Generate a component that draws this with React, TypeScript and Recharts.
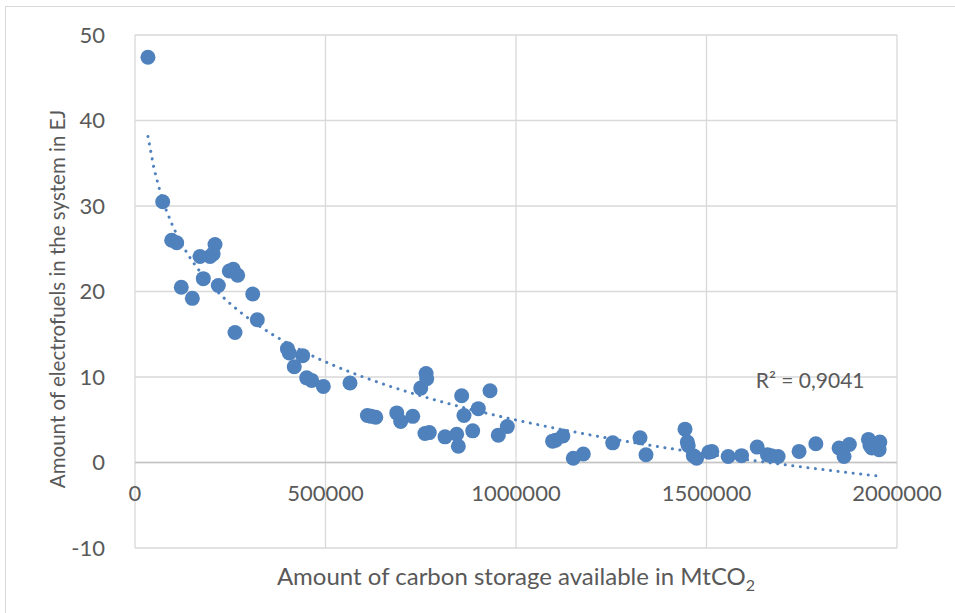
import {
  CartesianGrid,
  ReferenceDot,
  ReferenceLine,
  Scatter,
  ScatterChart,
  XAxis,
  YAxis,
} from 'recharts';

// carbon storage available (MtCO2) and electrofuels in the system (EJ)
const storageMt = [
  34000, 72700, 96300, 109400, 121500, 150500, 170600, 179300, 197000, 205000,
  210000, 218700, 247600, 258000, 269500, 262500, 309000, 321000, 400000, 405000,
  418000, 440000, 450600, 463700, 494300, 564300, 610000, 620000, 632000, 687000,
  697300, 729000, 750000, 764000, 765600, 761000, 772400, 813700, 844300, 848700,
  857400, 863500, 886300, 901100, 931800, 953600, 977200, 1096000, 1104000, 1123000,
  1150400, 1176700, 1253800, 1325500, 1341200, 1443600, 1449700, 1452000, 1465400, 1474000,
  1506000, 1514000, 1557000, 1592000, 1633000, 1660000, 1670000, 1688000, 1743000, 1787000,
  1848000, 1861000, 1875000, 1925000, 1929000, 1934000, 1955000, 1953000,
];
const electrofuelsEJ = [
  47.4, 30.5, 26.0, 25.7, 20.5, 19.2, 24.1, 21.5, 24.1, 24.4,
  25.5, 20.7, 22.4, 22.6, 21.9, 15.2, 19.7, 16.7, 13.3, 12.8,
  11.2, 12.5, 9.9, 9.6, 8.9, 9.3, 5.5, 5.4, 5.3, 5.8,
  4.8, 5.4, 8.7, 10.4, 9.8, 3.4, 3.5, 3.0, 3.3, 1.9,
  7.8, 5.5, 3.7, 6.3, 8.4, 3.2, 4.2, 2.5, 2.6, 3.1,
  0.5, 1.0, 2.3, 2.9, 0.9, 3.9, 2.4, 2.0, 0.8, 0.5,
  1.2, 1.3, 0.7, 0.8, 1.8, 0.9, 0.8, 0.7, 1.3, 2.2,
  1.7, 0.7, 2.1, 2.7, 2.0, 1.7, 2.4, 1.5,
];

const xTicks = [0, 500000, 1000000, 1500000, 2000000];
const yTicks = [-10, 0, 10, 20, 30, 40, 50];
const r2Text = 'R² = 0,9041';

const W = 955;
const H = 613;
const M = { top: 35, right: 58 };
const LEFT = 135;
const BOTTOM = 65;
const Y_MIN = -10;
const Y_MAX = 50;
const PLOT_H = H - M.top - BOTTOM;
const ZERO_Y = M.top + ((Y_MAX - 0) / (Y_MAX - Y_MIN)) * PLOT_H;

const BLUE = '#4f81bd';
const TEXT = '#595959';
const FONT = 'Lato, "Open Sans", sans-serif';

const points = storageMt.map((x, i) => ({ x, y: electrofuelsEJ[i] }));

// logarithmic trendline (y = a ln x + b), least squares like Excel does
function logTrend(xs: number[], ys: number[], steps: number) {
  const n = xs.length;
  const lx = xs.map((v) => Math.log(v));
  const mx = lx.reduce((s, v) => s + v, 0) / n;
  const my = ys.reduce((s, v) => s + v, 0) / n;
  let sxy = 0;
  let sxx = 0;
  for (let i = 0; i < n; i++) {
    sxy += (lx[i] - mx) * (ys[i] - my);
    sxx += (lx[i] - mx) ** 2;
  }
  const a = sxy / sxx;
  const b = my - a * mx;
  const lo = Math.min(...xs);
  const hi = Math.max(...xs);
  const out = [];
  for (let k = 0; k <= steps; k++) {
    const x = lo + ((hi - lo) * k) / steps;
    out.push({ x, y: a * Math.log(x) + b });
  }
  return out;
}

const trend = logTrend(storageMt, electrofuelsEJ, 120);

function YTick({ x, y, payload }: any) {
  return (
    <text x={x - 22} y={y} dy="0.35em" textAnchor="end" fill={TEXT} fontSize={22} fontFamily={FONT}>
      {payload.value}
    </text>
  );
}

function XTick({ x, payload }: any) {
  // Excel puts the horizontal axis labels under the zero line
  return (
    <text x={x} y={ZERO_Y + 31} dy="0.35em" textAnchor="middle" fill={TEXT} fontSize={22} fontFamily={FONT}>
      {payload.value}
    </text>
  );
}

function Dot(p: any) {
  return <circle cx={p.cx} cy={p.cy} r={7.5} fill={BLUE} />;
}

export default function App() {
  return (
    <div
      style={{
        position: 'absolute',
        left: 0,
        top: 0,
        width: W,
        height: H,
        background: '#fff',
        overflow: 'hidden',
      }}
    >
      <div
        style={{
          position: 'absolute',
          left: 5,
          top: 6,
          width: W,
          height: H,
          borderLeft: '1px solid #d9d9d9',
          borderTop: '1px solid #d9d9d9',
        }}
      />
      <div style={{ position: 'absolute', left: 0, top: 0 }}>
        <ScatterChart width={W} height={H} margin={{ top: M.top, right: M.right, left: 0, bottom: 0 }}>
          <CartesianGrid stroke="#d9d9d9" strokeWidth={1.3} />
          <XAxis
            type="number"
            dataKey="x"
            domain={[0, 2000000]}
            ticks={xTicks}
            height={BOTTOM}
            axisLine={false}
            tickLine={false}
            tick={<XTick />}
            interval={0}
            label={{
              content: () => (
                <text x={516} y={577} dy="0.35em" textAnchor="middle" fill={TEXT} fontSize={24} fontFamily={FONT}>
                  Amount of carbon storage available in MtCO
                  <tspan fontSize={16} dy={6}>2</tspan>
                </text>
              ),
            }}
          />
          <YAxis
            type="number"
            dataKey="y"
            domain={[Y_MIN, Y_MAX]}
            ticks={yTicks}
            width={LEFT}
            axisLine={false}
            tickLine={false}
            tick={<YTick />}
            interval={0}
            label={{
              content: () => (
                <text
                  x={0}
                  y={0}
                  transform="translate(58 299) rotate(-90)"
                  dy="0.35em"
                  textAnchor="middle"
                  fill={TEXT}
                  fontSize={20.5}
                  fontFamily={FONT}
                >
                  Amount of electrofuels in the system in EJ
                </text>
              ),
            }}
          />
          <ReferenceLine y={0} stroke="#c4c4c4" strokeWidth={1.5} />
          <Scatter data={points} shape={<Dot />} isAnimationActive={false} />
          <Scatter
            data={trend}
            shape={() => <g />}
            line={{ stroke: BLUE, strokeWidth: 3, strokeDasharray: '0.1 7.5', strokeLinecap: 'round' }}
            lineType="joint"
            isAnimationActive={false}
          />
          <ReferenceDot
            x={1772000}
            y={9.6}
            r={0}
            stroke="none"
            fill="none"
            label={{ value: r2Text, position: 'center', fill: TEXT, fontSize: 21, fontFamily: FONT }}
          />
        </ScatterChart>
      </div>
    </div>
  );
}
